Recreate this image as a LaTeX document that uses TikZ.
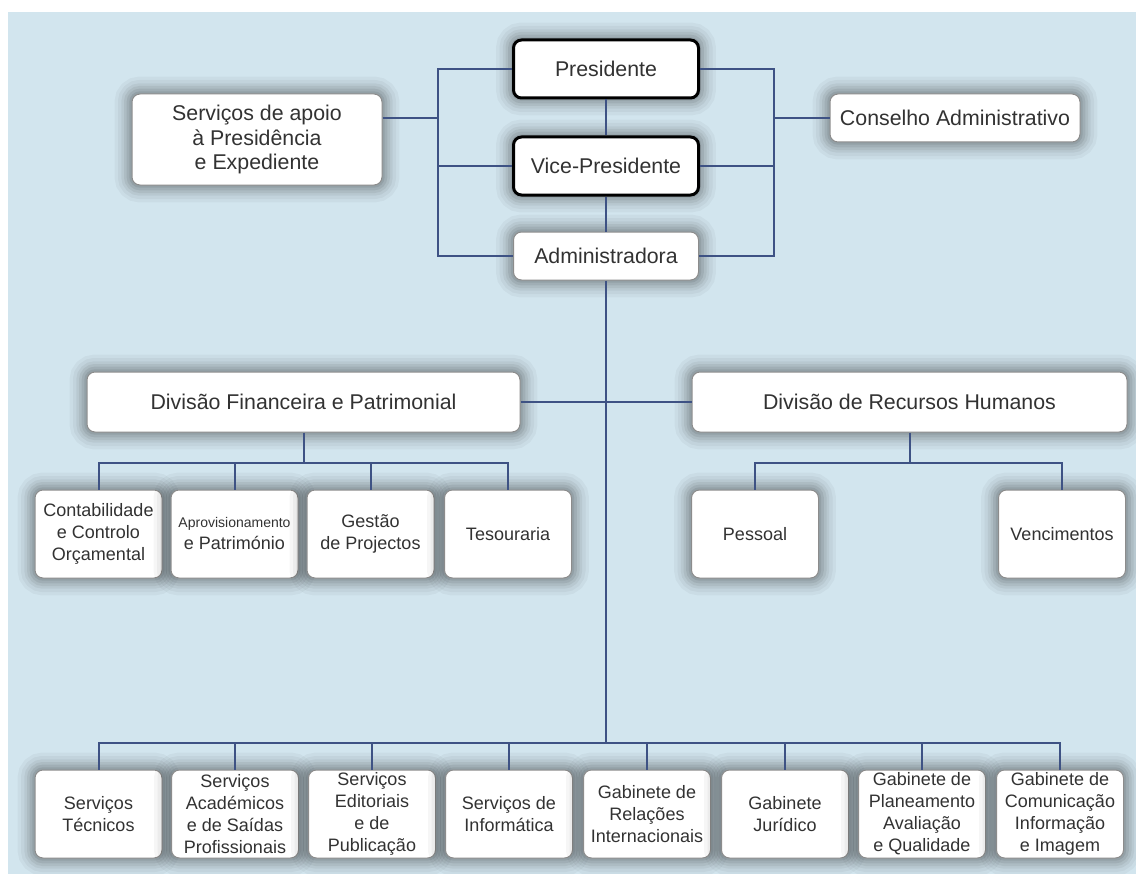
\documentclass[tikz,border=0pt]{standalone}
\usepackage{fontspec}
\setmainfont{Liberation Sans}

\definecolor{bgblue}{RGB}{210,229,238}
\definecolor{linkblue}{RGB}{62,82,132}
\definecolor{boxgrey}{RGB}{140,140,140}
\definecolor{txtgrey}{RGB}{50,50,50}

\tikzset{
  unitbox/.style={draw=boxgrey, line width=0.75pt, fill=white, rounded corners=6pt,
    align=center, inner sep=0pt, text=txtgrey,
    preaction={draw=black, draw opacity=0.035, line width=26pt},
    preaction={draw=black, draw opacity=0.04, line width=21pt},
    preaction={draw=black, draw opacity=0.05, line width=16pt},
    preaction={draw=black, draw opacity=0.06, line width=12pt},
    preaction={draw=black, draw opacity=0.07, line width=8pt},
    preaction={draw=black, draw opacity=0.08, line width=4pt}},
  headbox/.style={unitbox, draw=black, line width=2.25pt},
  bigtext/.style={font=\fontsize{16}{18.5}\selectfont},
  midtext/.style={font=\fontsize{13.5}{16.5}\selectfont},
  subbox/.style={unitbox, midtext, minimum width=95.25pt, minimum height=66pt},
  link/.style={draw=linkblue, line width=1.5pt}
}

\begin{document}
\begin{tikzpicture}[x=0.75pt,y=0.75pt,yscale=-1,xscale=1]
\useasboundingbox (0,0) rectangle (1136,874);
%Shape: page and background
\fill [white] (0,0) rectangle (1136,874);
\fill [bgblue] (8,12) rectangle (1136,874);

%Shape: top management
\node [headbox, bigtext, minimum width=138.75pt, minimum height=43.5pt] (pres) at (606,69) {Presidente};
\node [headbox, bigtext, minimum width=138.75pt, minimum height=43.5pt] (vice) at (606,166) {Vice-Presidente};
\node [unitbox, bigtext, minimum width=138.75pt, minimum height=36pt] (adm) at (606,256) {Administradora};
\node [unitbox, bigtext, minimum width=187.5pt, minimum height=68.25pt] (apoio) at (257,139.5) {Serviços de apoio\\à Presidência\\e Expediente};
\node [unitbox, bigtext, minimum width=187.5pt, minimum height=36pt] (cons) at (955,118) {Conselho Administrativo};

%Shape: divisions
\node [unitbox, bigtext, minimum width=324.75pt, minimum height=45pt] (dfin) at (303.5,402) {Divisão Financeira e Patrimonial};
\node [unitbox, bigtext, minimum width=326.25pt, minimum height=45pt] (drh) at (909.5,402) {Divisão de Recursos Humanos};

%Shape: units of the divisions
\node [subbox] (contab) at (98.5,534) {Contabilidade\\e Controlo\\Orçamental};
\node [subbox] (aprov) at (234.5,534) {{\fontsize{10.5}{16.5}\selectfont Aprovisionamento}\\e Património};
\node [subbox] (gestao) at (370.5,534) {Gestão\\de Projectos};
\node [subbox] (tesour) at (508,534) {Tesouraria};
\node [subbox] (pessoal) at (755,534) {Pessoal};
\node [subbox] (venc) at (1062,534) {Vencimentos};

%Shape: services and offices
\node [subbox] (stec) at (98.5,814) {Serviços\\Técnicos};
\node [subbox] (sacad) at (235,814) {Serviços\\Académicos\\e de Saídas\\Profissionais};
\node [subbox] (sedit) at (372,814) {Serviços\\Editoriais\\e de\\Publicação};
\node [subbox] (sinf) at (509,814) {Serviços de\\Informática};
\node [subbox] (grel) at (647,814) {Gabinete de\\Relações\\Internacionais};
\node [subbox] (gjur) at (785,814) {Gabinete\\Jurídico};
\node [subbox] (gplan) at (922,814) {Gabinete de\\Planeamento\\Avaliação\\e Qualidade};
\node [subbox] (gcom) at (1060,814) {Gabinete de\\Comunicação\\Informação\\e Imagem};

% bus coordinates
\coordinate (lbus) at (438,118);
\coordinate (rbus) at (774,118);
\coordinate (fbus) at (303.5,463);
\coordinate (hbus) at (909.5,463);
\coordinate (sbus) at (606,743);

%Shape: connectors top
\draw [link] (pres.west) -- (pres.west -| lbus) |- (adm.west);
\draw [link] (vice.west) -- (vice.west -| lbus);
\draw [link] (apoio.east |- lbus) -- (lbus);
\draw [link] (pres.east) -- (pres.east -| rbus) |- (adm.east);
\draw [link] (vice.east) -- (vice.east -| rbus);
\draw [link] (cons.west) -- (rbus);
\draw [link] (pres.south) -- (vice.north);
\draw [link] (vice.south) -- (adm.north);
\draw [link] (adm.south) -- (sbus);
\draw [link] (dfin.east) -- (drh.west);

%Shape: connectors divisions
\draw [link] (dfin.south) -- (fbus);
\draw [link] (contab.north) |- (tesour.north |- fbus) -- (tesour.north);
\foreach \u in {aprov,gestao}
  \draw [link] (\u.north) -- (\u.north |- fbus);
\draw [link] (drh.south) -- (hbus);
\draw [link] (pessoal.north) |- (venc.north |- hbus) -- (venc.north);

%Shape: connectors services
\draw [link] (stec.north) |- (gcom.north |- sbus) -- (gcom.north);
\foreach \u in {sacad,sedit,sinf,grel,gjur,gplan}
  \draw [link] (\u.north) -- (\u.north |- sbus);
\end{tikzpicture}
\end{document}
